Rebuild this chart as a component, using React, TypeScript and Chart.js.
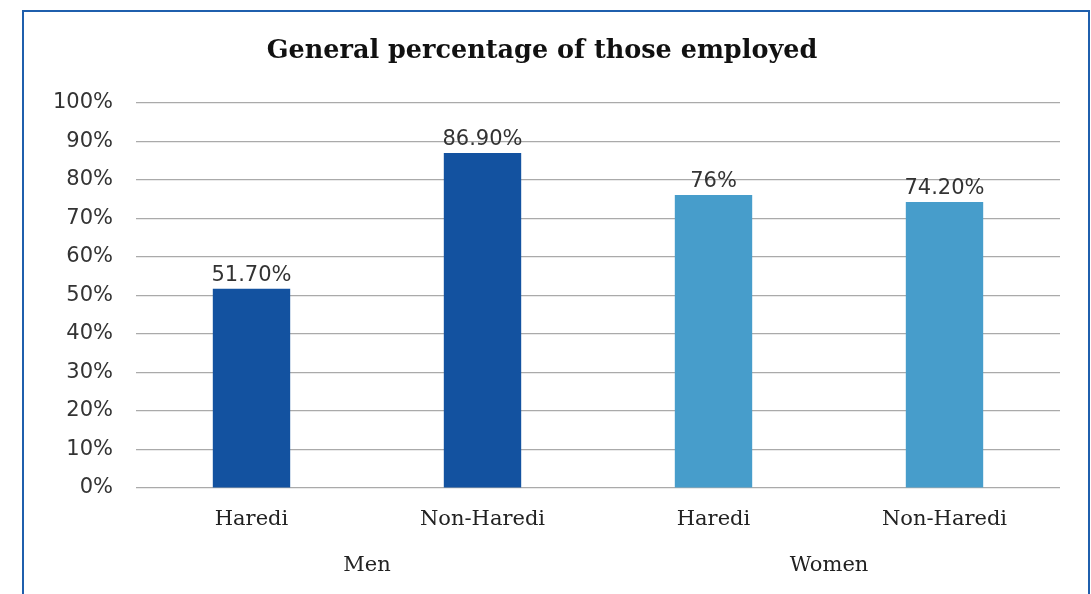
import React, { useEffect, useRef } from "react";
import { Chart, registerables } from "chart.js";

Chart.register(...registerables);

const categories = ["Haredi", "Non-Haredi", "Haredi", "Non-Haredi"];
const groups = ["Men", "Women"];
const values = [51.7, 86.9, 76, 74.2];
const barColors = ["#1352a0", "#1352a0", "#479dcb", "#479dcb"];
const titleText = "General percentage of those employed";

const fmt = (v: number) => (Number.isInteger(v) ? `${v}%` : `${v.toFixed(2)}%`);

const dataLabels = {
  id: "dataLabels",
  afterDatasetsDraw(chart: any) {
    const ctx = chart.ctx;
    const meta = chart.getDatasetMeta(0);
    ctx.save();
    ctx.font = "21px 'DejaVu Sans'";
    ctx.fillStyle = "#333333";
    ctx.textAlign = "center";
    ctx.textBaseline = "bottom";
    meta.data.forEach((bar: any, i: number) => {
      ctx.fillText(fmt(values[i]), bar.x, bar.y - 3);
    });
    ctx.restore();
  },
};

export default function App() {
  const ref = useRef<HTMLCanvasElement>(null);
  useEffect(() => {
    if (!ref.current) return;
    const chart = new Chart(ref.current, {
      type: "bar",
      data: {
        labels: categories,
        datasets: [
          {
            data: values,
            backgroundColor: barColors,
            borderWidth: 0,
            categoryPercentage: 1,
            barPercentage: 0.335,
            xAxisID: "x",
          },
        ],
      },
      options: {
        animation: false,
        responsive: false,
        layout: { padding: { left: 0, right: 28, top: 0, bottom: 14 } },
        plugins: {
          legend: { display: false },
          tooltip: { enabled: false },
          title: {
            display: true,
            text: titleText,
            color: "#111111",
            font: { family: "'DejaVu Serif'", size: 25.5, weight: "bold" },
            padding: { top: 24, bottom: 36 },
          },
        },
        scales: {
          x: {
            type: "category",
            position: "bottom",
            grid: { display: false, drawTicks: false },
            border: { display: false },
            ticks: {
              color: "#222222",
              font: { family: "'DejaVu Serif'", size: 21 },
              padding: 19,
              maxRotation: 0,
              autoSkip: false,
            },
            afterFit: (scale: any) => {
              scale.height = 43;
            },
          },
          x2: {
            type: "category",
            position: "bottom",
            labels: groups,
            offset: true,
            grid: { display: false, drawTicks: false },
            border: { display: false },
            ticks: {
              color: "#222222",
              font: { family: "'DejaVu Serif'", size: 21 },
              padding: 22,
              maxRotation: 0,
              autoSkip: false,
            },
            afterFit: (scale: any) => {
              scale.height = 49;
            },
          },
          y: {
            min: 0,
            max: 100,
            ticks: {
              stepSize: 10,
              color: "#333333",
              font: { family: "'DejaVu Sans'", size: 21 },
              padding: 23,
              callback: (v: any) => `${v}%`,
            },
            grid: { color: "#aaaaaa", lineWidth: 1.2, drawTicks: false },
            border: { display: false },
            afterFit: (scale: any) => {
              scale.width = 112;
            },
          },
        },
      },
      plugins: [dataLabels],
    });
    return () => chart.destroy();
  }, []);
  return (
    <div
      style={{
        position: "absolute",
        left: 22,
        top: 10,
        width: 1068,
        height: 584,
        boxSizing: "border-box",
        borderLeft: "2px solid #1f5fad",
        borderTop: "2px solid #1f5fad",
        borderRight: "2px solid #1f5fad",
        background: "#ffffff",
      }}
    >
      <canvas ref={ref} width={1064} height={582} />
    </div>
  );
}
